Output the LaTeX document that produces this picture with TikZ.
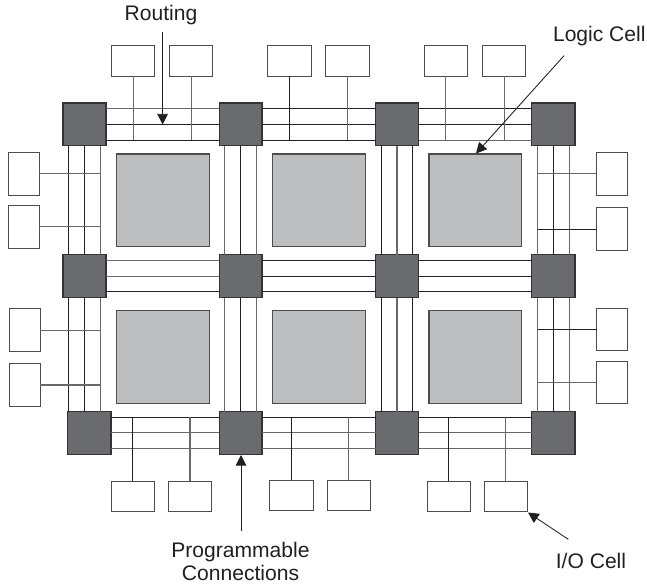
\documentclass[tikz,border=0pt]{standalone}
\usepackage{fontspec}
\setmainfont{Liberation Sans}
\usetikzlibrary{arrows.meta}
\definecolor{ink}{HTML}{231F20}
\definecolor{midline}{HTML}{68696C}
\definecolor{switchfill}{HTML}{6A6B6E}
\definecolor{logicfill}{HTML}{BCBEC0}
\definecolor{edge}{HTML}{4D4D4F}
\newcommand{\bx}[6]{%
  \pgfmathsetmacro{\cx}{(#2+#4)/2}\pgfmathsetmacro{\cy}{(#3+#5)/2}%
  \pgfmathsetmacro{\bw}{(#4-#2-1)*0.75}\pgfmathsetmacro{\bh}{(#5-#3-1)*0.75}%
  \node[#6,minimum width=\bw pt,minimum height=\bh pt] (#1) at (\cx,\cy) {};}
\tikzset{
  x=0.75pt,y=-0.75pt,
  cellbase/.style={rectangle,inner sep=0pt,outer sep=0pt,line width=0.8pt,draw=edge},
  iobox/.style={cellbase,fill=white},
  logicbox/.style={cellbase,fill=logicfill},
  switchbox/.style={cellbase,fill=switchfill,draw=ink!75!switchfill},
  K/.style={draw=ink,line width=0.7pt},
  G/.style={draw=midline,line width=0.85pt},
  H/.style={draw=ink,line width=1.2pt},
  pointer/.style={draw=ink,line width=0.65pt,-{Triangle[length=8pt,width=8pt,fill=ink]}},
  lab/.style={font=\fontsize{15.8}{18}\selectfont,text=ink,inner sep=0pt,anchor=base},
}
\begin{document}
\begin{tikzpicture}
\useasboundingbox (0,0) rectangle (647,585);
% switch boxes
\bx{s11}{62.5}{102.5}{106.5}{146.3}{switchbox}
\bx{s12}{218.7}{102.5}{262.5}{146.3}{switchbox}
\bx{s13}{375}{102.5}{419}{146.3}{switchbox}
\bx{s14}{531.3}{102.5}{575.5}{146.3}{switchbox}
\bx{s21}{62.5}{254.3}{106.5}{298}{switchbox}
\bx{s22}{218.7}{254.3}{262.5}{298}{switchbox}
\bx{s23}{375}{254.3}{419}{298}{switchbox}
\bx{s24}{531.3}{254.3}{575.5}{298}{switchbox}
\bx{s31}{67.3}{411}{111.5}{454.7}{switchbox}
\bx{s32}{218.7}{411}{262.5}{454.7}{switchbox}
\bx{s33}{375}{411}{419}{454.7}{switchbox}
\bx{s34}{531.3}{411}{575.5}{454.7}{switchbox}
% logic cells
\bx{l11}{116}{153.5}{209.7}{247.3}{logicbox}
\bx{l12}{272.3}{153.5}{366}{247.3}{logicbox}
\bx{l13}{428.5}{153.5}{522}{247.3}{logicbox}
\bx{l21}{116}{310}{209.7}{403.7}{logicbox}
\bx{l22}{272.3}{310}{366}{403.7}{logicbox}
\bx{l23}{428.5}{310}{522}{403.7}{logicbox}
% I/O cells, top
\bx{t1}{111}{45}{155.3}{76.7}{iobox}
\bx{t2}{169.3}{45}{213.3}{76.7}{iobox}
\bx{t3}{267.3}{45}{311.7}{76.7}{iobox}
\bx{t4}{325.3}{45}{369.7}{76.7}{iobox}
\bx{t5}{423.7}{45}{468}{76.7}{iobox}
\bx{t6}{482.3}{45}{526}{76.7}{iobox}
% I/O cells, left and right
\bx{a1}{7.7}{152}{39.7}{195.7}{iobox}
\bx{a2}{7.7}{205}{39.7}{248.7}{iobox}
\bx{a3}{8.7}{308.3}{40.7}{352}{iobox}
\bx{a4}{8.7}{363}{40.7}{407}{iobox}
\bx{b1}{596.3}{152}{628.3}{195.7}{iobox}
\bx{b2}{596.3}{207.3}{628.3}{251.3}{iobox}
\bx{b3}{596.3}{307.7}{628.3}{351.3}{iobox}
\bx{b4}{596.3}{360.7}{628.3}{404.3}{iobox}
% I/O cells, bottom
\bx{u1}{110.7}{480.7}{154.7}{512.3}{iobox}
\bx{u2}{168}{480.7}{212}{512.3}{iobox}
\bx{u3}{269.3}{479.7}{313.7}{511.3}{iobox}
\bx{u4}{326.7}{479.7}{370.7}{511.3}{iobox}
\bx{u5}{426.7}{480.7}{470.7}{512.3}{iobox}
\bx{u6}{483.7}{480.7}{528}{512.3}{iobox}
% horizontal tracks
\newcommand{\hrow}[5]{%
  \draw[#3] ([yshift=11.8pt]#1.east) -- ([yshift=11.8pt]#2.west);
  \draw[#4] (#1.east) -- (#2.west);
  \draw[#5] ([yshift=-11.8pt]#1.east) -- ([yshift=-11.8pt]#2.west);}
\hrow{s11}{s12}{G}{K}{K}
\hrow{s12}{s13}{H}{K}{K}
\hrow{s13}{s14}{H}{K}{G}
\hrow{s21}{s22}{G}{G}{K}
\hrow{s22}{s23}{K}{K}{K}
\hrow{s23}{s24}{K}{K}{K}
\hrow{s31}{s32}{K}{G}{G}
\hrow{s32}{s33}{K}{G}{G}
\hrow{s33}{s34}{K}{G}{G}
% vertical tracks
\newcommand{\vcol}[5]{%
  \draw[#3] ([xshift=-11.8pt]#1.south) -- ([xshift=-11.8pt]#1.south |- #2.north);
  \draw[#4] (#1.south) -- (#1.south |- #2.north);
  \draw[#5] ([xshift=11.8pt]#1.south) -- ([xshift=11.8pt]#1.south |- #2.north);}
\vcol{s11}{s21}{K}{K}{G}
\vcol{s21}{s31}{K}{K}{G}
\vcol{s12}{s22}{G}{K}{G}
\vcol{s22}{s32}{G}{K}{G}
\vcol{s13}{s23}{K}{G}{K}
\vcol{s23}{s33}{K}{G}{K}
\vcol{s14}{s24}{G}{K}{G}
\vcol{s24}{s34}{G}{K}{G}
% stubs: named ends on the outer tracks
\coordinate (tt) at (0,140.2);
\coordinate (bt) at (0,417.4);
\coordinate (lt) at (99.8,0);
\coordinate (rt) at (537.7,0);
\draw[G] (t1.south) -- (t1.south |- tt);
\draw[G] (t2.south) -- (t2.south |- tt);
\draw[K] (t3.south) -- (t3.south |- tt);
\draw[G] (t4.south) -- (t4.south |- tt);
\draw[G] (t5.south) -- (t5.south |- tt);
\draw[G] (t6.south) -- (t6.south |- tt);
\draw[K] (u1.north) -- (u1.north |- bt);
\draw[G] (u2.north) -- (u2.north |- bt);
\draw[K] (u3.north) -- (u3.north |- bt);
\draw[G] (u4.north) -- (u4.north |- bt);
\draw[K] (u5.north) -- (u5.north |- bt);
\draw[G] (u6.north) -- (u6.north |- bt);
\draw[G] (a1.east) -- (a1.east -| lt);
\draw[G] (a2.east) -- (a2.east -| lt);
\draw[G] (a3.east) -- (a3.east -| lt);
\draw[G] (a4.east) -- (a4.east -| lt);
\draw[G] (b1.west) -- (b1.west -| rt);
\draw[K] (b2.west) -- (b2.west -| rt);
\draw[K] (b3.west) -- (b3.west -| rt);
\draw[G] (b4.west) -- (b4.west -| rt);
% labels
\node[lab] (routing) at (161,20.7) {Routing};
\node[lab] (logic) at (599.3,42) {Logic Cell};
\node[lab] (prog) at (240.5,557.7) {Programmable};
\node[lab] (conn) at (240.5,580.5) {Connections};
\node[lab] (iocell) at (591,568) {I/O Cell};
% pointers
\coordinate (p1a) at (162.6,32);
\coordinate (p1b) at (162.6,124.5);
\coordinate (p2a) at (564,55.7);
\coordinate (p2b) at (476,153.5);
\coordinate (p3a) at (241,531);
\coordinate (p3b) at (241,455);
\coordinate (p4a) at (568.3,539.3);
\coordinate (p4b) at (528,512.5);
\draw[pointer] (p1a) -- (p1b);
\draw[pointer] (p2a) -- (p2b);
\draw[pointer] (p3a) -- (p3b);
\draw[pointer] (p4a) -- (p4b);
\end{tikzpicture}
\end{document}
